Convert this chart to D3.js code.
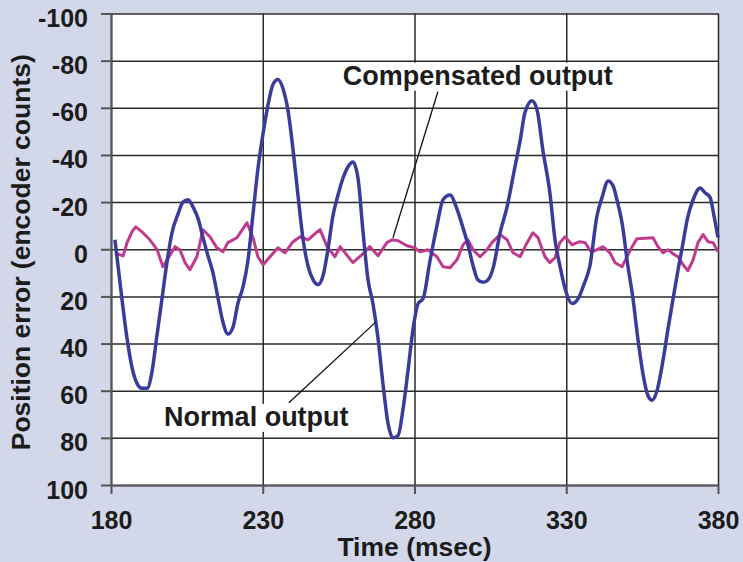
<!DOCTYPE html>
<html lang="en">
<head>
<meta charset="utf-8">
<title>Position error</title>
<style>
body{
  margin: 0;
  background: #d2d8ea;
}
svg text{
  font-family: "Liberation Sans", Arial, sans-serif;
  font-weight: bold;
  fill: #1c1c1c;
}
.axis path, .axis line{
  stroke: #555;
  stroke-width: 2;
}
.grid line{
  stroke: #2a2a2a;
  stroke-width: 1.5;
}
.grid path{ display: none; }
</style>
</head>
<body>
<div id="chart"></div>
<script src="https://d3js.org/d3.v7.min.js"></script>
<script>

// time in msec, position error in encoder counts
const normalT = [181.3,183.6,185.3,186.9,188.6,190.2,191.9,193.5,195.2,196.8,198.5,200.1,202.1,203.7,205.4,207,208.7,210.3,212,213.6,215.3,216.9,218.5,220.2,221.8,223.5,225.1,226.8,228.4,230.1,231.7,233.4,235,236.7,238.3,240,241.6,243.3,244.9,246.6,248.2,249.9,251.5,253.1,254.8,256.4,258.1,259.7,261.4,263,264.7,266.3,268,269.6,271.3,272.9,274.6,276.2,277.9,279.5,281.2,282.8,285.1,287.4,289.4,291.7,294,296,297.6,299.3,300.9,302.6,304.2,305.9,308.2,310.5,313.1,314.8,316.4,318.7,320.4,322.3,324.6,326.3,327.9,329.9,331.9,333.9,335.8,337.8,340.1,341.8,343.8,345.4,346.7,348.4,350.3,352,353.6,355.3,356.9,358.3,359.9,361.9,363.5,365.2,366.8,368.1,370.1,371.8,374.1,375.7,377.4,378.7,380];
const normalV = [-4,21,38,50,57,59,59,52,36,21,5,-7,-15,-20,-21,-18,-13,-5,3,10,21,31,36,33,23,16,5,-15,-34,-49,-61,-70,-72,-68,-59,-42,-23,-4,7,13,15,11,0,-14,-23,-30,-35,-37,-30,-8,13,23,38,57,74,80,79,68,51,34,23,21,5,-10,-21,-23,-17,-9,-2,7,13,14,13,8,-7,-18,-35,-46,-58,-63,-59,-42,-24,-4,7,18,23,21,15,7,-14,-22,-29,-27,-21,-11,7,21,38,53,62,64,60,47,34,21,9,0,-14,-21,-26,-24,-22,-14,-5];

const compT = [181.3,184,185.3,186.9,188.2,190.2,192.8,195.2,197.1,198.5,201.1,202.7,204.4,206,208.3,210.3,212.6,214.9,216.9,218.5,221.5,224.8,226.8,228.4,230.1,232.4,235,237.3,240,242.3,244.9,247.9,248.9,251.2,253.8,255.5,257.1,259.7,262.7,265.3,268,270.9,272.6,274.6,277.5,280.2,281.8,284.4,287.4,289.4,291.7,294,296,297.6,299.3,301.6,303.9,305.5,308.2,310.5,312.5,314.8,317.1,319,320.7,323,324.6,326.3,327.9,329.6,331.9,334.5,336.2,338.2,340.1,342.1,344.4,346.1,348.4,350,351.7,353.3,358.6,360.2,361.9,363.5,365.2,366.8,368.5,370.1,371.8,373.4,375.1,376.7,378.4,380];
const compV = [1.5,2.8,-2.8,-7.4,-9.5,-7.4,-4,0.2,7.4,4.5,-1.1,0.2,5.7,8.7,3.2,-8.3,-5.3,-0.6,1.1,-2.8,-4.9,-11.2,-4.9,3.2,6.6,3.2,-0.6,1.5,-3.2,-5.3,-4,-7.4,-8.3,-1.1,3.2,-1.1,1.5,5.7,2.3,-1.1,2.8,-2.8,-4,-3.6,-1.5,-0.6,1.1,0.2,3.2,7.4,7.8,4.5,-1.9,-4,0.2,3.2,0.2,-2.8,-6.2,-4,1.5,3.2,-2.8,-7,-4.9,3.2,5.7,3.6,-2.8,-5.3,-1.9,-3.2,-2.8,1.1,0.2,-1.1,1.5,5.7,7.4,3.2,-1.1,-4.5,-4.9,-1.1,1.5,0.2,1.9,3.2,6.6,9.1,4.5,-2.8,-6.2,-3.2,-2.8,1.1];

const xTicks = [180, 230, 280, 330, 380];
const yTicks = [-100, -80, -60, -40, -20, 0, 20, 40, 60, 80, 100];

const W = 743, H = 562;
const margin = { top: 13.5, left: 111, right: 25, bottom: 77 };
const width = W - margin.left - margin.right;
const height = H - margin.top - margin.bottom;

const svg = d3.select('#chart').append('svg')
  .attr('width', W)
  .attr('height', H);

const g = svg.append('g')
  .attr('transform', 'translate(' + margin.left + ',' + margin.top + ')');

const x = d3.scaleLinear().domain([180, 380]).range([0, width]);
const y = d3.scaleLinear().domain([-100, 100]).range([0, height]);

g.append('rect')
  .attr('width', width)
  .attr('height', height)
  .attr('fill', 'white');

// grid
g.append('g').attr('class', 'grid')
  .call(d3.axisLeft(y).tickValues(yTicks).tickSize(-width).tickFormat(''));
g.append('g').attr('class', 'grid')
  .call(d3.axisBottom(x).tickValues(xTicks).tickSize(height).tickFormat(''));

// axes
const yAxis = g.append('g').attr('class', 'axis')
  .call(d3.axisLeft(y).tickValues(yTicks).tickSize(10).tickPadding(13).tickSizeOuter(0)
    .tickFormat(d => String(d)));
yAxis.selectAll('text').attr('dy', '0.52em').style('font-size', '25px');

const xAxis = g.append('g').attr('class', 'axis')
  .attr('transform', 'translate(0,' + height + ')')
  .call(d3.axisBottom(x).tickValues(xTicks).tickSize(9).tickPadding(17).tickSizeOuter(0)
    .tickFormat(d => String(d)));
xAxis.selectAll('text').style('font-size', '25px');

// lines
const normal = normalT.map((t, i) => [t, normalV[i]]);
const comp = compT.map((t, i) => [t, compV[i]]);

g.append('path')
  .datum(comp)
  .attr('fill', 'none')
  .attr('stroke', '#c03a8e')
  .attr('stroke-width', 3)
  .attr('stroke-linejoin', 'round')
  .attr('d', d3.line().x(d => x(d[0])).y(d => y(d[1])));

g.append('path')
  .datum(normal)
  .attr('fill', 'none')
  .attr('stroke', '#3b3b9b')
  .attr('stroke-width', 3.5)
  .attr('stroke-linejoin', 'round')
  .attr('d', d3.line().curve(d3.curveMonotoneX).x(d => x(d[0])).y(d => y(d[1])));

// annotations
function note(label, tx, ty, from, to) {
  g.append('line')
    .attr('x1', x(from[0])).attr('y1', y(from[1]))
    .attr('x2', x(to[0])).attr('y2', y(to[1]))
    .attr('stroke', '#111').attr('stroke-width', 1.3);
  const ng = g.append('g');
  const box = ng.append('rect').attr('fill', 'white');
  const t = ng.append('text')
    .attr('x', x(tx)).attr('y', y(ty))
    .style('font-size', '27px')
    .text(label);
  const b = t.node().getBBox();
  box.attr('x', b.x - 3).attr('y', b.y + 2)
    .attr('width', b.width + 6).attr('height', b.height - 2);
}
note('Compensated output', 256.4, -69.8, [287.7, -66.8], [272.9, -4.9]);
note('Normal output', 197.5, 74.9, [238.6, 65.1], [267.3, 30.8]);

// titles
svg.append('text')
  .attr('transform', 'translate(30,' + (margin.top + height / 2 + 3) + ') rotate(-90)')
  .attr('text-anchor', 'middle')
  .style('font-size', '26.5px')
  .text('Position error (encoder counts)');

svg.append('text')
  .attr('x', margin.left + width / 2)
  .attr('y', H - 6)
  .attr('text-anchor', 'middle')
  .style('font-size', '26.5px')
  .text('Time (msec)');

</script>
</body>
</html>
